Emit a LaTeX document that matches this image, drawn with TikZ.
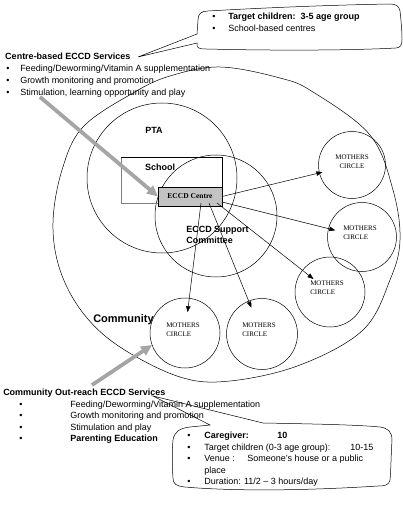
\documentclass[tikz,border=0pt]{standalone}
\usepackage{fontspec}
\setmainfont{Liberation Sans}
\newfontfamily\serifx{Liberation Serif}
\usetikzlibrary{arrows.meta,calc}
\definecolor{arrgray}{RGB}{165,165,165}
\definecolor{boxgray}{RGB}{195,195,195}
\begin{document}
\begin{tikzpicture}[x=1pt,y=-1pt,
  txt/.style={anchor=base west,inner sep=0pt,font=\fontsize{9}{10}\selectfont},
  btxt/.style={anchor=base west,inner sep=0pt,font=\fontsize{9}{10}\selectfont\bfseries},
  bul/.style={anchor=base,inner sep=0pt,font=\fontsize{9}{10}\selectfont},
  mcirc/.style={circle,draw,minimum size=#1,inner sep=0pt,outer sep=0pt},
  mcirc/.default=68pt,
  mlab/.style={anchor=west,inner sep=0pt,align=left,font=\serifx\fontsize{7}{9}\selectfont},
  thinarr/.style={-{Triangle[length=6pt,width=4.5pt]},line width=0.5pt},
  grayarr/.style={draw=arrgray,line width=3.8pt,-{Triangle[length=11pt,width=10pt]}},
  lbl/.style={inner sep=0pt,font=\fontsize{9}{10}\selectfont\bfseries},
  line width=0.5pt]
\useasboundingbox (0,0) rectangle (403,505);

% big community ellipse
\draw plot[smooth cycle,tension=0.6] coordinates {(220,67) (280,78) (313,92) (370,135) (393,190) (400,240) (390,280) (363,330) (300,365) (230,381) (180,377) (120,347) (83,313) (60,270) (53,223) (62,170) (83,127) (133,93) (170,76)};

% PTA and support circles
\node[mcirc=150pt] (pta) at (162,178) {};
\node[mcirc=122pt] (esc) at (216,216) {};

% school rectangle
\node[minimum width=101pt,minimum height=46pt,inner sep=0pt,outer sep=0pt] (school) at (171.5,180) {};
\draw[gray] (school.north west) -- (school.south west) -- (school.south east);
\draw (school.north west) -- (school.north east) -- (school.south east);

% ECCD centre box
\node[draw,fill=boxgray,minimum width=64pt,minimum height=19pt,inner sep=0pt,outer sep=0pt,font=\serifx\bfseries\fontsize{7.5}{9}\selectfont] (centre) at (190,196.5) {ECCD Centre};

% labels
\node[lbl] (ptalbl) at (154,130) {PTA};
\node[lbl] (schoollbl) at (160,167) {School};
\node[anchor=north west,inner sep=0pt,align=left,font=\fontsize{9}{11}\selectfont\bfseries] (esclbl) at (186,226) {ECCD Support\\Committee};
\node[anchor=base west,inner sep=0pt,font=\fontsize{11}{12}\selectfont\bfseries] (comm) at (93,322) {Community};

% mothers circles
\node[mcirc=67pt] (m1) at (352,165) {};
\node[mcirc=69pt] (m2) at (362,237) {};
\node[mcirc=70pt] (m3) at (330,292) {};
\node[mcirc=70pt] (m4) at (185,333) {};
\node[mcirc=71pt] (m5) at (262,334) {};
\node[anchor=center,inner sep=0pt,align=center,font=\serifx\fontsize{7}{9}\selectfont] (t1) at (352,162) {MOTHERS\\CIRCLE};
\node[mlab] (t2) at (343,233) {MOTHERS\\CIRCLE};
\node[mlab] (t3) at (310,288) {MOTHERS\\CIRCLE};
\node[mlab] (t4) at (166,330) {MOTHERS\\CIRCLE};
\node[mlab] (t5) at (242,330) {MOTHERS\\CIRCLE};

% thin arrows from centre
\draw[thinarr,shorten >=-3pt] (centre.east) -- (m1);
\draw[thinarr,shorten >=-7pt] ([yshift=4pt]centre.south east) -- (m2);
\draw[thinarr,shorten >=-14pt] ([xshift=-5pt,yshift=3pt]centre.south east) -- (m3);
\draw[thinarr,shorten >=-7pt] ([xshift=19pt,yshift=3pt]centre.south) -- (m5);
\draw[thinarr,shorten >=-14pt] ([xshift=11pt,yshift=3pt]centre.south) -- (m4);

% top text
\node[btxt] (cbs) at (5,60) {Centre-based ECCD Services};
\node[bul] (cb1) at (8,72) {•};
\node[txt] (ct1) at (20,72) {Feeding/Deworming/Vitamin A supplementation};
\node[bul] (cb2) at (8,84) {•};
\node[txt] (ct2) at (20,84) {Growth monitoring and promotion};
\node[bul] (cb3) at (8,96) {•};
\node[txt] (ct3) at (20,96) {Stimulation, learning opportunity and play};

% top callout
\draw (197,34) -- (138,57) -- (197,43) .. controls (196,48) and (199,49) .. (206,49)
  .. controls (290,51) and (360,50) .. (396,48) .. controls (400,48) and (402,45) .. (402,40)
  .. controls (402,30) and (401,20) .. (400,11) .. controls (399,6) and (396,4) .. (390,4)
  .. controls (330,5) and (260,8) .. (208,11) .. controls (201,11) and (198,14) .. (198,20) -- cycle;
\node[bul] (tb1) at (214,20) {•};
\node[btxt] (tt1) at (228,20) {Target children:\ \ 3-5 age group};
\node[bul] (tb2) at (214,32) {•};
\node[txt] (tt2) at (228,32) {School-based centres};

% gray arrows
\coordinate (g1) at (40,97);
\coordinate (g2) at (92,385);
\draw[grayarr] (g1) -- (centre.west);
\draw[grayarr] (g2) -- (m4.200);

% bottom text
\node[btxt] (cos) at (3,395) {Community Out-reach ECCD Services};
\node[bul] (ob1) at (21,407) {•};
\node[txt] (ot1) at (70,407) {Feeding/Deworming/Vitamin A supplementation};
\node[bul] (ob2) at (21,418.5) {•};
\node[txt] (ot2) at (70,418.5) {Growth monitoring and promotion};
\node[bul] (ob3) at (21,430) {•};
\node[txt] (ot3) at (70,430) {Stimulation and play};
\node[bul] (ob4) at (21,441.5) {•};
\node[btxt] (ot4) at (70,441.5) {Parenting Education};

% bottom callout
\draw (210,425) -- (153,396) -- (263,423) .. controls (320,424) and (360,425) .. (380,427)
  .. controls (388,428) and (392,432) .. (392,440) .. controls (391,455) and (391,470) .. (390,480)
  .. controls (389,485) and (385,486) .. (378,486) .. controls (300,491) and (230,491) .. (185,487)
  .. controls (176,486) and (173,484) .. (173,478) .. controls (172,465) and (172,450) .. (173,440)
  .. controls (174,432) and (180,428) .. (190,427) -- cycle;
\node[bul] (kb1) at (189,438.5) {•};
\node[btxt] (kt1) at (204,438.5) {Caregiver:};
\node[btxt] (kt1b) at (277,438.5) {10};
\node[bul] (kb2) at (189,450) {•};
\node[txt] (kt2) at (204,450) {Target children (0-3 age group):};
\node[txt] (kt2b) at (350,450) {10-15};
\node[bul] (kb3) at (189,461.5) {•};
\node[txt] (kt3) at (204,461.5) {Venue :};
\node[txt] (kt3b) at (247,461.5) {Someone’s house or a public};
\node[txt] (kt4) at (204,473) {place};
\node[bul] (kb5) at (189,484.5) {•};
\node[txt] (kt5) at (204,484.5) {Duration: 11/2 – 3 hours/day};
\end{tikzpicture}
\end{document}
